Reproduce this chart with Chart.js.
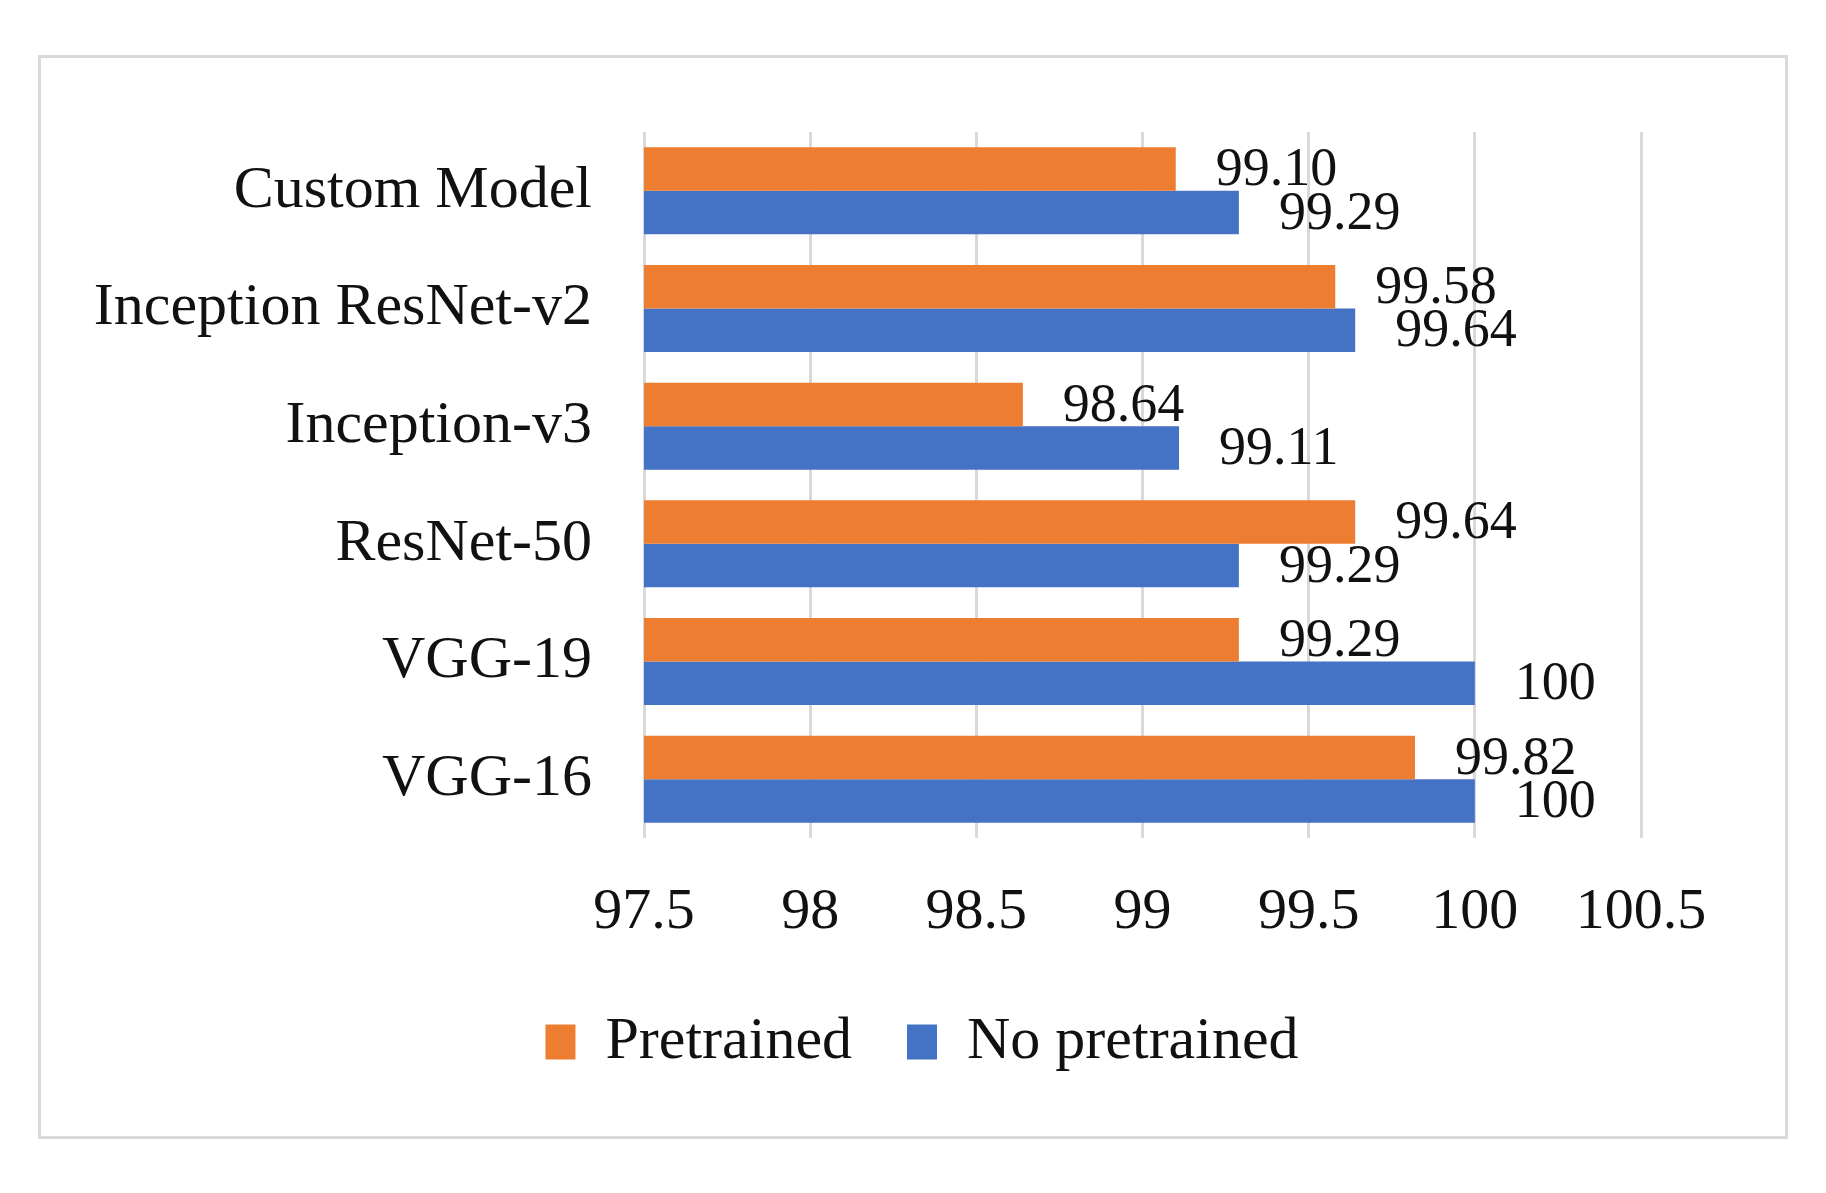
<!DOCTYPE html>
<html>
<head>
<meta charset="utf-8">
<script src="https://cdn.jsdelivr.net/npm/chart.js@4.4.1/dist/chart.umd.min.js"></script>
<style>
  body { margin: 0; background: #fff; }
  #wrap { position: relative; width: 1826px; height: 1193px; }
  #frame { position: absolute; left: 38px; top: 55px; width: 1744px; height: 1078px; border: 3px solid #d9d9d9; }
  canvas { position: absolute; left: 0; top: 0; }
</style>
</head>
<body>
<div id="wrap">
  <div id="frame"></div>
  <canvas id="accChart" width="1826" height="1193"></canvas>
</div>
<script>
const models = ['Custom Model', 'Inception ResNet-v2', 'Inception-v3', 'ResNet-50', 'VGG-19', 'VGG-16'];
const pretrained = [99.10, 99.58, 98.64, 99.64, 99.29, 99.82];
const noPretrained = [99.29, 99.64, 99.11, 99.29, 100, 100];
const xTicks = [97.5, 98, 98.5, 99, 99.5, 100, 100.5];

const serif = 'Liberation Serif';

function fmt(v) {
    return Number.isInteger(v) ? String(v) : v.toFixed(2);
}

const valueLabels = {
    id: 'valueLabels',
    afterDatasetsDraw(chart) {
        const ctx = chart.ctx;
        ctx.save();
        ctx.font = '54px "' + serif + '"';
        ctx.fillStyle = '#111';
        ctx.textAlign = 'left';
        ctx.textBaseline = 'middle';
        chart.data.datasets.forEach((ds, i) => {
            chart.getDatasetMeta(i).data.forEach((bar, j) => {
                ctx.fillText(fmt(ds.data[j]), bar.x + 40, bar.y + 2);
            });
        });
        ctx.restore();
    }
};

// legend in the original is centred a bit to the right of the canvas middle
const shiftLegend = {
    id: 'shiftLegend',
    afterLayout(chart) {
        if (chart.legend) {
            chart.legend.left += 163;
        }
    }
};

const ctx = document.getElementById('accChart').getContext('2d');
new Chart(ctx, {
    type: 'bar',
    data: {
        labels: models,
        datasets: [{
            label: 'Pretrained',
            data: pretrained,
            backgroundColor: '#ED7D31'
        }, {
            label: 'No pretrained',
            data: noPretrained,
            backgroundColor: '#4472C4'
        }]
    },
    options: {
        indexAxis: 'y',
        responsive: false,
        animation: false,
        devicePixelRatio: 1,
        layout: { padding: { top: 132, left: 40, right: 185, bottom: 111 } },
        datasets: { bar: { categoryPercentage: 0.74, barPercentage: 1.0 } },
        scales: {
            x: {
                min: 97.5,
                max: 100.5,
                afterBuildTicks(scale) {
                    scale.ticks = xTicks.map(v => ({ value: v }));
                },
                grid: { color: '#d9d9d9', lineWidth: 3, drawTicks: false },
                border: { display: false },
                ticks: {
                    padding: 40,
                    color: '#111',
                    font: { family: serif, size: 58 },
                    callback: v => String(v)
                },
                afterFit(scale) { scale.height = 119; }
            },
            y: {
                grid: { display: false },
                border: { display: false },
                ticks: {
                    padding: 44,
                    color: '#111',
                    font: { family: serif, size: 60 }
                },
                afterFit(scale) { scale.width = 604; }
            }
        },
        plugins: {
            legend: {
                position: 'bottom',
                labels: {
                    color: '#111',
                    font: { family: serif, size: 60 },
                    boxWidth: 30,
                    boxHeight: 35,
                    padding: 55
                }
            },
            tooltip: { enabled: false }
        }
    },
    plugins: [valueLabels, shiftLegend]
});
</script>
</body>
</html>
